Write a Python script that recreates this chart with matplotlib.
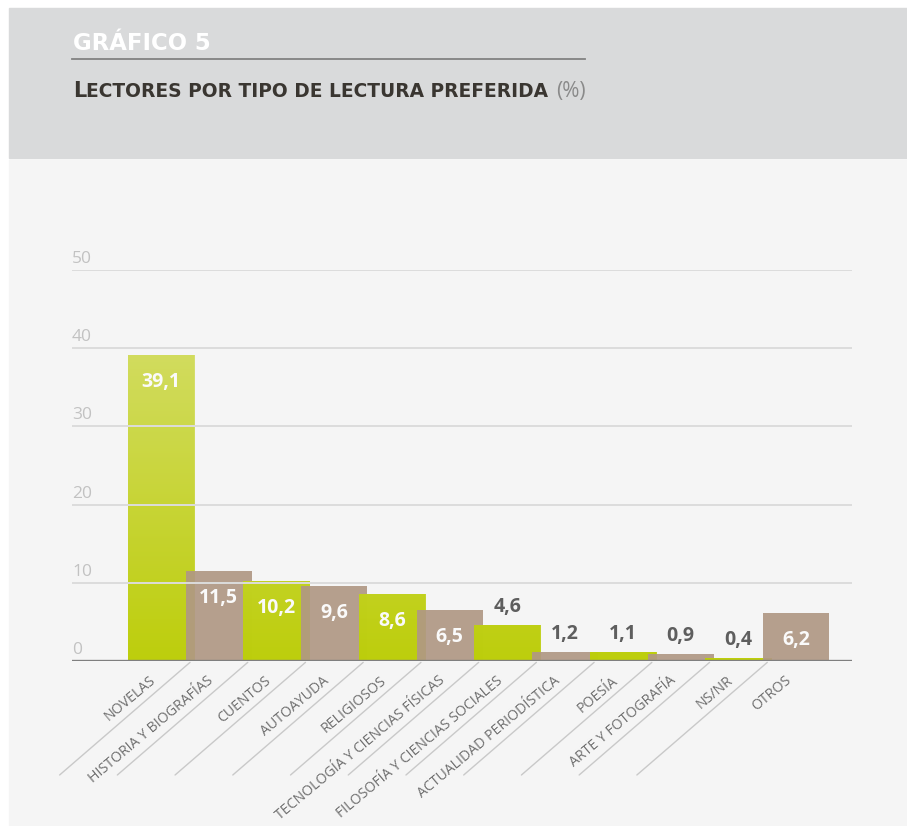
import matplotlib
matplotlib.use("Agg")
import matplotlib.pyplot as plt
import numpy as np
from matplotlib.patches import Rectangle
from matplotlib.lines import Line2D
from matplotlib.colors import LinearSegmentedColormap

plt.rcParams['font.family'] = ['Open Sans', 'DejaVu Sans']

# datos del gráfico
categorias = ["NOVELAS", "HISTORIA Y BIOGRAFÍAS", "CUENTOS", "AUTOAYUDA", "RELIGIOSOS",
              "TECNOLOGÍA Y CIENCIAS FÍSICAS", "FILOSOFÍA Y CIENCIAS SOCIALES",
              "ACTUALIDAD PERIODÍSTICA", "POESÍA", "ARTE Y FOTOGRAFÍA", "NS/NR", "OTROS"]
porcentajes = [39.1, 11.5, 10.2, 9.6, 8.6, 6.5, 4.6, 1.2, 1.1, 0.9, 0.4, 6.2]
marcas_y = [0, 10, 20, 30, 40, 50]
titulo = "GRÁFICO 5"
subtitulo = "LECTORES POR TIPO DE LECTURA PREFERIDA"

VERDE = "#bdce0b"
VERDE_CLARO = "#d4dd66"
MARRON = "#b09884"
W, H = 907, 826

fig = plt.figure(figsize=(W / 100, H / 100), dpi=100)
fig.patch.set_facecolor("white")

# fondos: cabecera gris y cuerpo claro
fig.patches.append(Rectangle((9 / W, 1 - 158 / H), 1, 150 / H, transform=fig.transFigure,
                             color="#d9dadb", zorder=-5))
fig.patches.append(Rectangle((9 / W, 1 / H), 1, (824 - 159) / H, transform=fig.transFigure,
                             color="#f5f5f5", zorder=-5))
fig.lines.append(Line2D([72 / W, 585 / W], [1 - 59 / H] * 2, transform=fig.transFigure,
                        color="#828282", lw=1.3))

fig.text(73 / W, 1 - 50 / H, titulo, color="white", fontsize=16.4, fontweight="bold",
         va="baseline", family="DejaVu Sans")

ax = fig.add_axes([72 / W, 165 / H, 780 / W, 391 / H])
ax.set_facecolor("none")
x = np.arange(len(categorias))
colores = [VERDE if i % 2 == 0 else MARRON for i in x]

# barras solapadas, cada una encima de la anterior
cmap = LinearSegmentedColormap.from_list("v", [VERDE, VERDE_CLARO])
grad = np.linspace(0, 1, 256).reshape(-1, 1)
for i in x:
    z = 2 + i * 0.1
    b = ax.bar(i, porcentajes[i], width=1.145, color=colores[i], alpha=0.92,
               zorder=z, linewidth=0)[0]
    if i % 2 == 0:
        im = ax.imshow(grad, extent=(-2, 13, 0, 40), origin="lower", aspect="auto",
                       cmap=cmap, alpha=0.92, zorder=z + 0.05)
        im.set_clip_path(b)

ax.set_xlim(-1.542, 11.97)
ax.set_ylim(0, 50)

for y in marcas_y[1:]:
    ax.axhline(y, color="#dcdcdc", lw=1.4, zorder=3.5)
ax.axhline(0, color="#7f7f7f", lw=2.4, zorder=4)

for y in marcas_y:
    ax.annotate(str(y), xy=(0, y), xycoords=("axes fraction", "data"), xytext=(0, 3),
                textcoords="offset pixels", ha="left", va="bottom", fontsize=12.5,
                color="#c2c2c2", annotation_clip=False)

for sp in ax.spines.values():
    sp.set_visible(False)
ax.set_xticks([])
ax.set_yticks([])

# etiquetas de valor
for i, v in zip(x, porcentajes):
    txt = f"{v:.1f}".replace(".", ",")
    if v >= 5:
        ax.annotate(txt, xy=(i, v), xytext=(0, -27), textcoords="offset pixels",
                    ha="center", va="center", fontsize=14, fontweight="bold",
                    color="#fafafa", zorder=6)
    else:
        ax.annotate(txt, xy=(i, v), xytext=(0, 18), textcoords="offset pixels",
                    ha="center", va="center", fontsize=14, fontweight="bold",
                    color="#5e5e5e", zorder=6)

# etiquetas de categoría inclinadas y separadores
for i, nombre in zip(x, categorias):
    ax.annotate(nombre, xy=(i, 0), xytext=(-7, -18), textcoords="offset pixels",
                ha="right", va="center", rotation=40, rotation_mode="anchor",
                fontsize=10.2, color="#6e6e6e", annotation_clip=False)
for i in x[:-1]:
    ax.annotate("", xy=(i + 0.53, 0), xytext=(-132, -114), textcoords="offset pixels",
                arrowprops=dict(arrowstyle="-", color="#c9c9c9", lw=1, shrinkA=0, shrinkB=1.5),
                annotation_clip=False)

# subtítulo en versalitas
fig.canvas.draw()
r = fig.canvas.get_renderer()
base = 1 - 96.7 / H
t1 = fig.text(73 / W, base, subtitulo[0], fontsize=15, fontweight="bold", color="#3a3631",
              va="baseline", family="DejaVu Sans")
bb = t1.get_window_extent(r)
t2 = fig.text(bb.x1 / W, base, subtitulo[1:], fontsize=13.4, fontweight="bold",
              color="#3a3631", va="baseline", family="DejaVu Sans")
bb = t2.get_window_extent(r)
fig.text(bb.x1 / W + 8 / W, base, "(%)", fontsize=15, color="#8a8a8a", va="baseline")

fig.savefig("out.png", dpi=100, facecolor=fig.get_facecolor())
